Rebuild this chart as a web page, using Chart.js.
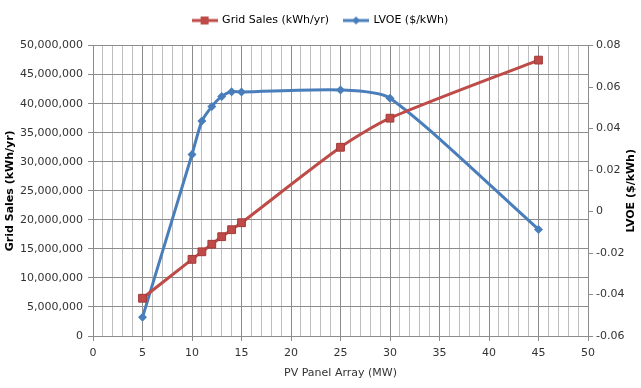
<!DOCTYPE html>
<html>
<head>
<meta charset="utf-8">
<script src="https://cdn.jsdelivr.net/npm/chart.js@4"></script>
<style>
  html, body { margin: 0; padding: 0; background: #fff; }
  #wrap { width: 641px; height: 388px; }
</style>
</head>
<body>
<div id="wrap"><canvas id="pv-chart"></canvas></div>
<script>
(function() {
	'use strict';

	// dados
	var panelMW   = [5, 10, 11, 12, 13, 14, 15, 25, 30, 45];
	var gridSales = [6500000, 13200000, 14500000, 15800000, 17100000, 18300000, 19500000, 32500000, 37500000, 47500000];
	var lvoe      = [-0.051, 0.0275, 0.0436, 0.0506, 0.0555, 0.0578, 0.0576, 0.0586, 0.0546, -0.0086];

	var salesTicks = [0, 5000000, 10000000, 15000000, 20000000, 25000000, 30000000, 35000000, 40000000, 45000000, 50000000];
	var lvoeTicks  = [-0.06, -0.04, -0.02, 0, 0.02, 0.04, 0.06, 0.08];

	var red = '#BE4B48';
	var blue = '#4A7EBB';
	var font = 'DejaVu Sans';

	function pairs(xs, ys) {
		return xs.map(function(x, i) { return {x: x, y: ys[i]}; });
	}

	// icone da legenda: linha + marcador
	function legendIcon(color, shape) {
		var c = document.createElement('canvas');
		c.width = 26; c.height = 10;
		var g = c.getContext('2d');
		g.strokeStyle = color; g.lineWidth = 3;
		g.beginPath(); g.moveTo(0, 5); g.lineTo(26, 5); g.stroke();
		g.fillStyle = color;
		if (shape === 'rect') {
			g.fillRect(9, 1, 8, 8);
		} else {
			g.beginPath(); g.moveTo(13, 1); g.lineTo(17, 5); g.lineTo(13, 9); g.lineTo(9, 5); g.closePath(); g.fill();
		}
		return c;
	}

	// titulo do eixo direito, lido de baixo para cima como no Excel
	var rightTitle = {
		id: 'rightTitle',
		afterDraw: function(chart) {
			var g = chart.ctx;
			var area = chart.chartArea;
			g.save();
			g.translate(631, (area.top + area.bottom) / 2);
			g.rotate(-Math.PI / 2);
			g.font = 'bold 11px "' + font + '"';
			g.fillStyle = '#000';
			g.textAlign = 'center';
			g.textBaseline = 'middle';
			g.fillText('LVOE ($/kWh)', 0, 0);
			g.restore();
		}
	};

	var ctx = document.getElementById('pv-chart');

	new Chart(ctx, {
		type: 'line',
		data: {
			datasets: [
				{
					label: 'Grid Sales (kWh/yr)',
					data: pairs(panelMW, gridSales),
					yAxisID: 'y',
					borderColor: red,
					backgroundColor: red,
					borderWidth: 3,
					pointStyle: 'rect',
					pointRadius: 5.5,
					pointBorderColor: '#A33A37',
					pointBorderWidth: 1,
					tension: 0.25
				},
				{
					label: 'LVOE ($/kWh)',
					data: pairs(panelMW, lvoe),
					yAxisID: 'y2',
					borderColor: blue,
					backgroundColor: blue,
					borderWidth: 3,
					pointStyle: 'rectRot',
					pointRadius: 4.5,
					pointBorderWidth: 0,
					tension: 0.25
				}
			]
		},
		plugins: [rightTitle],
		options: {
			responsive: true,
			maintainAspectRatio: false,
			animation: false,
			layout: { padding: { top: 0, right: 0, bottom: 0, left: 0 } },
			plugins: {
				tooltip: { enabled: false },
				subtitle: {
					display: true,
					text: '',
					weight: 500,
					font: { size: 8 },
					padding: 0
				},
				legend: {
					position: 'top',
					labels: {
						font: { family: font, size: 11 },
						color: '#333',
						boxWidth: 26,
						boxHeight: 10,
						padding: 15,
						usePointStyle: true,
						pointStyleWidth: 24,
						generateLabels: function(chart) {
							return chart.data.datasets.map(function(ds, i) {
								return {
									text: ds.label,
									pointStyle: legendIcon(ds.borderColor, i === 0 ? 'rect' : 'diamond'),
									fillStyle: ds.borderColor,
									strokeStyle: ds.borderColor,
									lineWidth: 0,
									datasetIndex: i
								};
							});
						}
					}
				}
			},
			scales: {
				x: {
					type: 'linear',
					min: 0, max: 50,
					afterFit: function(axis) { axis.height = 52; },
					ticks: {
						stepSize: 1,
						autoSkip: false,
						maxRotation: 0,
						padding: 6,
						font: { family: font, size: 11 },
						color: '#333',
						callback: function(v) { return v % 5 === 0 ? v : ''; }
					},
					grid: {
						color: function(c) { return c.tick && c.tick.value % 5 === 0 ? '#8c8c8c' : '#bdbdbd'; },
						lineWidth: 1,
						tickLength: 5,
						tickColor: function(c) { return c.tick && c.tick.value % 5 === 0 ? '#8c8c8c' : 'rgba(0,0,0,0)'; }
					},
					border: { color: '#8c8c8c' },
					title: {
						display: true,
						text: 'PV Panel Array (MW)',
						font: { family: font, size: 11 },
						color: '#333',
						padding: { top: 4, bottom: 8 }
					}
				},
				y: {
					type: 'linear',
					position: 'left',
					min: 0, max: 50000000,
					afterBuildTicks: function(axis) {
						axis.ticks = salesTicks.map(function(v) { return {value: v}; });
					},
					afterFit: function(axis) { axis.width = 93; },
					ticks: {
						padding: 5,
						font: { family: font, size: 11 },
						color: '#333',
						callback: function(v) { return v.toLocaleString('en-US'); }
					},
					grid: { color: '#8c8c8c', tickLength: 5, tickColor: '#8c8c8c' },
					border: { color: '#8c8c8c' },
					title: {
						display: true,
						text: 'Grid Sales (kWh/yr)',
						font: { family: font, size: 11, weight: 'bold' },
						color: '#000',
						padding: { top: 4, bottom: 2 }
					}
				},
				y2: {
					type: 'linear',
					position: 'right',
					min: -0.06, max: 0.08,
					afterBuildTicks: function(axis) {
						axis.ticks = lvoeTicks.map(function(v) { return {value: v}; });
					},
					afterFit: function(axis) { axis.width = 53; },
					ticks: {
						font: { family: font, size: 11 },
						color: '#333',
						callback: function(v) { return String(+v.toFixed(2)); }
					},
					grid: { drawOnChartArea: false, tickLength: 5, tickColor: '#8c8c8c' },
					border: { color: '#8c8c8c' }
				}
			}
		}
	});

})();
</script>
</body>
</html>
